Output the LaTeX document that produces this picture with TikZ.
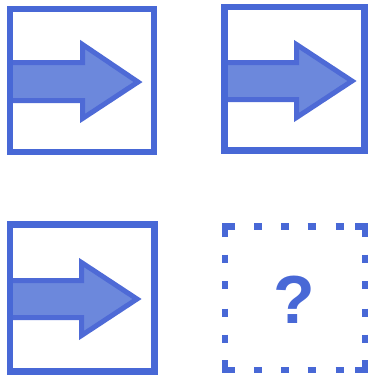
\documentclass[tikz,border=0pt]{standalone}
\usepackage{fontspec}
\newfontfamily\qfont{Liberation Sans}
\definecolor{boxblue}{RGB}{72,104,214}
\definecolor{arrowfill}{RGB}{108,136,220}
\definecolor{arrowline}{RGB}{78,106,214}
\tikzset{
  framebox/.style={draw=boxblue, line width=6.5pt},
  arrowshape/.style={fill=arrowfill, draw=arrowline, line width=5pt, line join=miter},
  dashpiece/.style={draw=boxblue, line width=6.5pt, line cap=butt, line join=miter},
  qmark/.style={text=boxblue, inner sep=0pt, font=\qfont\bfseries\fontsize{68}{68}\selectfont}
}
% #1 left x, #2 shaft top, #3 shaft bottom, #4 head base x, #5 head top, #6 head bottom, #7 tip x, #8 tip y (outer edges, image coords)
\newcommand\blockarrow[8]{%
  \draw[arrowshape] (#1pt,-#2pt-2.5pt) -- (#4pt+2.5pt,-#2pt-2.5pt) -- (#4pt+2.5pt,-#5pt-4.5pt)
    -- (#7pt-5pt,-#8pt) -- (#4pt+2.5pt,-#6pt+4.5pt) -- (#4pt+2.5pt,-#3pt+2.5pt)
    -- (#1pt,-#3pt+2.5pt) -- cycle;}
\begin{document}
\begin{tikzpicture}[x=1pt,y=1pt]
\useasboundingbox (0,0) rectangle (368,-378);
% arrows first
\blockarrow{10}{60}{103}{80}{40}{123}{143}{82}
\blockarrow{224.5}{60}{102}{294}{40}{122}{357}{81}
\blockarrow{10}{278}{320}{79}{258}{340}{142}{299}
% frames
\draw[framebox] (10,-9) rectangle (154,-152);
\draw[framebox] (224.5,-7) rectangle (364.5,-150.5);
\draw[framebox] (10,-224.5) rectangle (154.5,-371.5);
% dashed frame: corners
\draw[dashpiece] (225,-237) -- (225,-226.5) -- (235,-226.5);
\draw[dashpiece] (355,-226.5) -- (365,-226.5) -- (365,-237);
\draw[dashpiece] (225,-360) -- (225,-370) -- (235,-370);
\draw[dashpiece] (355,-370) -- (365,-370) -- (365,-360);
% dashed frame: dashes
\foreach \x in {258,285,311.5,339.5}{
  \draw[dashpiece] (\x-4,-226.5) -- (\x+4,-226.5);
  \draw[dashpiece] (\x-4,-370) -- (\x+4,-370);
}
\foreach \y in {258.5,285,312.5,338.5}{
  \draw[dashpiece] (225,-\y+4) -- (225,-\y-4);
  \draw[dashpiece] (365,-\y+4) -- (365,-\y-4);
}
\node[qmark] (q) at (294,-300) {?};
\end{tikzpicture}
\end{document}
